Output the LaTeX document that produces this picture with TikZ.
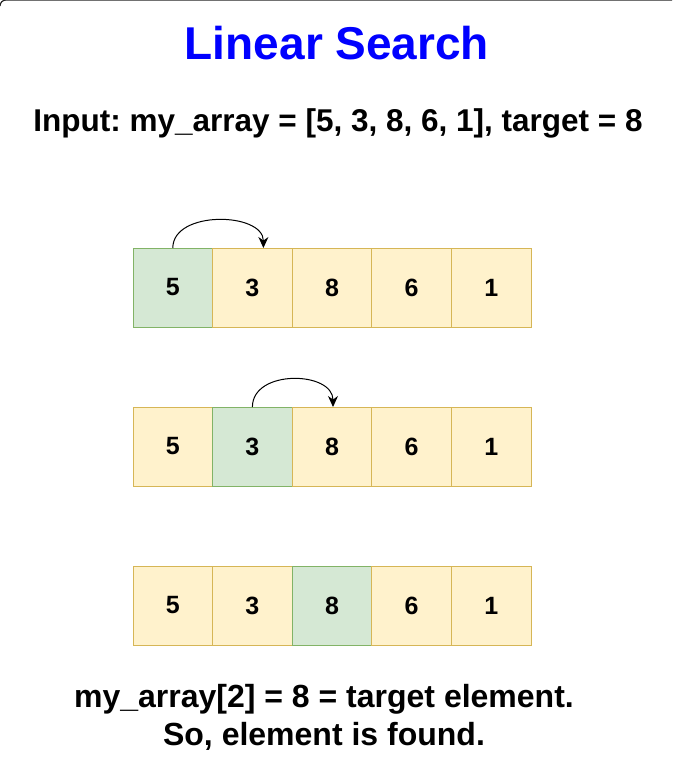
\documentclass[tikz,border=0pt]{standalone}
\usepackage{fontspec}
\setmainfont{Liberation Sans}
\usetikzlibrary{arrows.meta,calc}
\definecolor{gfill}{HTML}{D5E8D4}
\definecolor{gline}{HTML}{82B366}
\definecolor{yfill}{HTML}{FFF2CC}
\definecolor{yline}{HTML}{D6B656}
\definecolor{ttl}{HTML}{0000FF}
\frenchspacing
\begin{document}
\begin{tikzpicture}[x=1pt,y=-1pt,
  cellbase/.style={minimum width=79.6pt,minimum height=79pt,inner sep=0pt,outer sep=0pt,line width=0.9pt,font=\fontsize{25}{29}\selectfont\bfseries,anchor=north west},
  ycell/.style={cellbase,draw=yline,fill=yfill},
  gcell/.style={cellbase,draw=gline,fill=gfill},
  hop/.style={-{Stealth[length=11pt,width=10pt]},line width=1pt,black}]
\useasboundingbox (0,0) rectangle (672,770);
\fill[white] (0,0) rectangle (672,770);
\draw[line width=1.2pt,draw=black!85] (0,6) arc[start angle=180,end angle=270,radius=6] -- (672,0);
\node[font=\fontsize{46}{50}\selectfont\bfseries,text=ttl] (title) at (337,43) {Linear Search};
\node[font=\fontsize{31.5}{36}\selectfont\bfseries] (input) at (338,123) {Input: my\_array = [5, 3, 8, 6, 1], target = 8};
% row 1
\node[gcell] (a1) at (133,248) {5};
\node[ycell] (a2) at (212.6,248) {3};
\node[ycell] (a3) at (292.2,248) {8};
\node[ycell] (a4) at (371.8,248) {6};
\node[ycell] (a5) at (451.4,248) {1};
% row 2
\node[ycell] (b1) at (133,407) {5};
\node[gcell] (b2) at (212.6,407) {3};
\node[ycell] (b3) at (292.2,407) {8};
\node[ycell] (b4) at (371.8,407) {6};
\node[ycell] (b5) at (451.4,407) {1};
% row 3
\node[ycell] (c1) at (133,566) {5};
\node[ycell] (c2) at (212.6,566) {3};
\node[gcell] (c3) at (292.2,566) {8};
\node[ycell] (c4) at (371.8,566) {6};
\node[ycell] (c5) at (451.4,566) {1};
% arrows
\coordinate (e1) at ($(a2.north)+(11,0)$);
\coordinate (e2) at ($(b3.north)+(1,0)$);
\draw[hop] (a1.north) .. controls ($(a1.north)+(0,-38)$) and ($(e1)+(0,-36)$) .. (e1);
\draw[hop] (b2.north) .. controls ($(b2.north)+(0,-38)$) and ($(e2)+(0,-36)$) .. (e2);
\node[font=\fontsize{32}{38}\selectfont\bfseries,align=center] (res) at (324,717) {my\_array[2] = 8 = target element.\\So, element is found.};
\end{tikzpicture}
\end{document}
